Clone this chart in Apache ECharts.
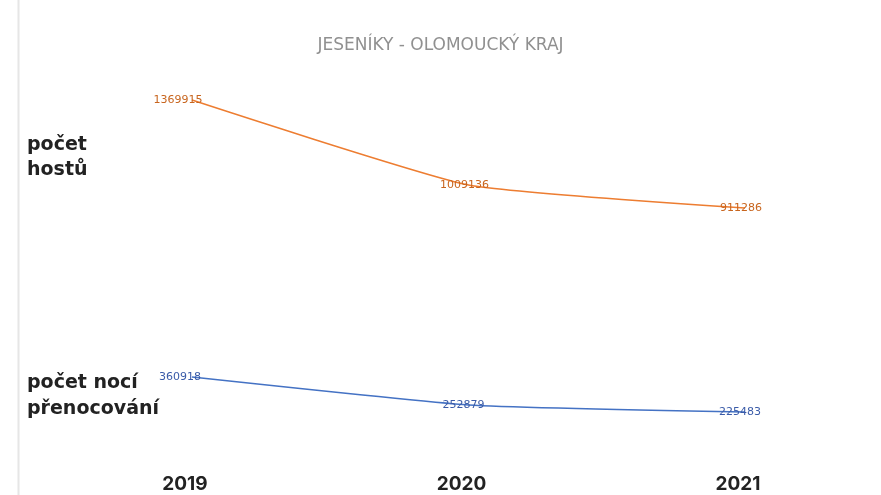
<!DOCTYPE html>
<html>
<head>
<meta charset="utf-8">
<script src="https://cdn.jsdelivr.net/npm/echarts@6/dist/echarts.min.js"></script>
<style>
html,body{margin:0;padding:0;background:#fff;}
#c{width:881px;height:495px;}
</style>
</head>
<body>
<div id="c"></div>
<script>
const categories = ['2019', '2020', '2021'];
const hostsValues = [1369915, 1009136, 911286];
const nightsValues = [360918, 252879, 225483];
const titleText = 'JESENÍKY - OLOMOUCKÝ KRAJ';
const hostsName = 'počet\nhostů';
const nightsName = 'počet nocí\npřenocování';

function withLabelOffsets(values, first, rest) {
  return values.map((v, i) => ({ value: v, label: { offset: [i === 0 ? first : rest, 0] } }));
}

const chart = echarts.init(document.getElementById('c'));
chart.setOption({
  backgroundColor: '#fff',
  animation: false,
  title: {
    text: titleText, left: 'center', top: 32,
    textStyle: { color: '#909090', fontSize: 17, fontWeight: 'normal', fontFamily: 'DejaVu Sans' }
  },
  graphic: [
    { type: 'line', shape: { x1: 18.5, y1: 0, x2: 18.5, y2: 495 }, style: { stroke: '#e6e6e6', lineWidth: 2 } },
    { type: 'text', left: 27, top: 133, style: { text: hostsName, fill: '#222', font: 'bold 19px "DejaVu Sans"', lineHeight: 25 } },
    { type: 'text', left: 27, top: 370, style: { text: nightsName, fill: '#222', font: 'bold 19px "DejaVu Sans"', lineHeight: 26 } }
  ],
  grid: { left: 192, right: 136, top: 60, bottom: 55 },
  xAxis: {
    type: 'category', data: categories, boundaryGap: false,
    axisLine: { show: false }, axisTick: { show: false },
    axisLabel: { color: '#222', fontSize: 19, fontWeight: 'bold', fontFamily: 'Inter', margin: 35, padding: [0, 14, 0, 0] }
  },
  yAxis: [
    { type: 'value', min: -74000, max: 1540000, show: false, splitLine: { show: false } },
    { type: 'value', min: 117000, max: 1588000, show: false, splitLine: { show: false } }
  ],
  series: [
    {
      name: 'hosté', type: 'line', data: withLabelOffsets(hostsValues, -14, -4), yAxisIndex: 0,
      symbol: 'circle', symbolSize: 2, showSymbol: true, smooth: 0.15,
      itemStyle: { color: 'rgba(237,125,49,0)' },
      lineStyle: { color: '#ED7D31', width: 1.5 },
      label: { show: true, position: 'inside', color: '#C8651E', fontSize: 11, fontFamily: 'DejaVu Sans' }
    },
    {
      name: 'noci', type: 'line', data: withLabelOffsets(nightsValues, -12, -5), yAxisIndex: 1,
      symbol: 'circle', symbolSize: 2, showSymbol: true, smooth: 0.15,
      itemStyle: { color: 'rgba(68,114,196,0)' },
      lineStyle: { color: '#4472C4', width: 1.5 },
      label: { show: true, position: 'inside', color: '#3A5BA8', fontSize: 11, fontFamily: 'DejaVu Sans' }
    }
  ]
});
</script>
</body>
</html>
